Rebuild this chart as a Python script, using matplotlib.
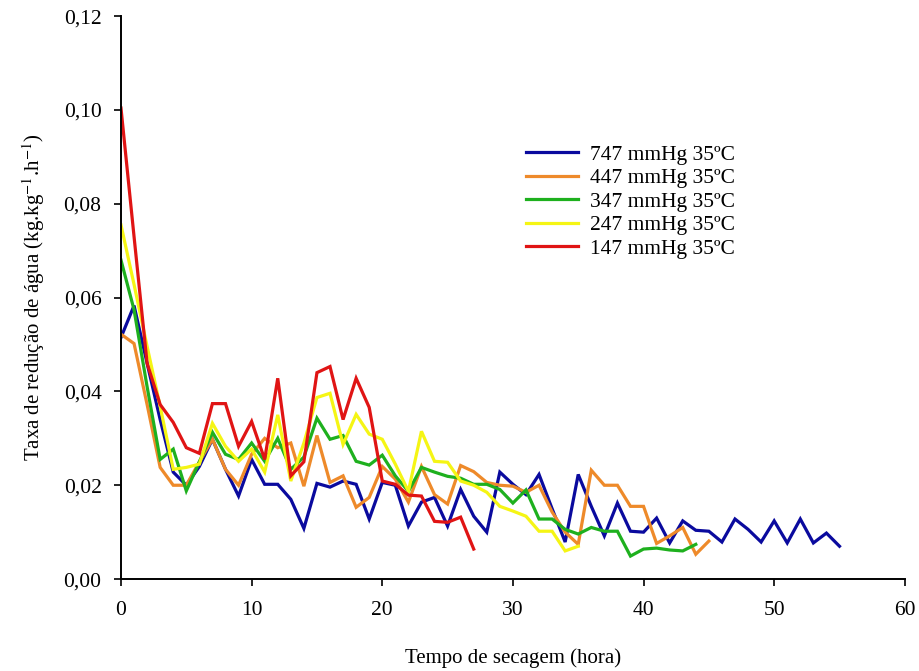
import numpy as np
import matplotlib
matplotlib.use("Agg")
import matplotlib.pyplot as plt

# Drying rate data, one value per hour
rate_747 = [0.0515, 0.0583, 0.046, 0.034, 0.0228, 0.020, 0.024, 0.0298, 0.0234, 0.0177,
            0.0255, 0.0202, 0.0202, 0.017, 0.0108, 0.0204, 0.0196, 0.0209, 0.0202, 0.0128,
            0.0206, 0.020, 0.0113, 0.0164, 0.0174, 0.0113, 0.0191, 0.0134, 0.010, 0.0228,
            0.0202, 0.018, 0.0223, 0.015, 0.0079, 0.0223, 0.0155, 0.0092, 0.0162, 0.0102,
            0.010, 0.013, 0.0077, 0.0124, 0.0104, 0.0102, 0.0079, 0.0128, 0.0106, 0.0079,
            0.0124, 0.0077, 0.0128, 0.0077, 0.0098, 0.007]
rate_447 = [0.0522, 0.0502, 0.0372, 0.0238, 0.020, 0.020, 0.025, 0.0298, 0.0234, 0.020,
            0.0266, 0.030, 0.028, 0.029, 0.0198, 0.0306, 0.0206, 0.022, 0.0153, 0.0174,
            0.024, 0.0213, 0.0164, 0.024, 0.018, 0.016, 0.0242, 0.0229, 0.0206, 0.020,
            0.0198, 0.0185, 0.020, 0.0143, 0.010, 0.0074, 0.0232, 0.020, 0.020, 0.0155,
            0.0155, 0.0076, 0.0092, 0.011, 0.0053, 0.0081]
rate_347 = [0.068, 0.0574, 0.041, 0.0255, 0.0277, 0.0188, 0.025, 0.0313, 0.0266, 0.0255,
            0.029, 0.0251, 0.030, 0.0234, 0.026, 0.0343, 0.0298, 0.0306, 0.0251, 0.0243,
            0.0264, 0.022, 0.0187, 0.0238, 0.0228, 0.0219, 0.0215, 0.0202, 0.0202, 0.0191,
            0.0162, 0.019, 0.0128, 0.0128, 0.0106, 0.0096, 0.011, 0.0102, 0.0102, 0.0049,
            0.0064, 0.0066, 0.0062, 0.006, 0.0074]
rate_247 = [0.0755, 0.0628, 0.0496, 0.0368, 0.0234, 0.0238, 0.0245, 0.0332, 0.0283, 0.0251,
            0.0277, 0.0228, 0.035, 0.0209, 0.029, 0.0387, 0.0396, 0.0287, 0.0351, 0.0309,
            0.0298, 0.0245, 0.0187, 0.0315, 0.0251, 0.0249, 0.0209, 0.0200, 0.0185, 0.0155,
            0.0145, 0.0134, 0.0102, 0.0102, 0.006, 0.007]
rate_147 = [0.1004, 0.073, 0.046, 0.0372, 0.0334, 0.028, 0.0268, 0.0374, 0.0374, 0.0283,
            0.0336, 0.0255, 0.0428, 0.022, 0.025, 0.044, 0.0453, 0.034, 0.0428, 0.0366,
            0.0209, 0.0202, 0.0179, 0.0177, 0.0123, 0.0121, 0.0132, 0.0064]

labels = ["747 mmHg 35ºC", "447 mmHg 35ºC", "347 mmHg 35ºC",
          "247 mmHg 35ºC", "147 mmHg 35ºC"]
colors = ["#0a0a9e", "#ee8a2a", "#1eb01e", "#f5f514", "#e01414"]

x_ticks = [0, 10, 20, 30, 40, 50, 60]
y_ticks = [0.00, 0.02, 0.04, 0.06, 0.08, 0.10, 0.12]

plt.rcParams["font.family"] = ["Liberation Serif", "DejaVu Serif"]
plt.rcParams["mathtext.fontset"] = "stix"

fig = plt.figure(figsize=(9.2, 6.71), dpi=100)
ax = fig.add_axes([0.1315, 0.137, 0.852, 0.839])

series = [rate_747, rate_447, rate_347, rate_247, rate_147]
for values, label, color in zip(series, labels, colors):
    hours = np.arange(len(values))
    ax.plot(hours, values, color=color, lw=2.3, label=label, solid_joinstyle="miter")

ax.set_xlim(0, 60)
ax.set_ylim(0, 0.12)
ax.set_xticks(x_ticks)
ax.set_yticks(y_ticks)
ax.set_yticklabels([f"{v:.2f}".replace(".", ",") for v in y_ticks])
ax.tick_params(direction="out", length=5, width=1.2, labelsize=15.5, colors="black")
ax.tick_params(axis="x", pad=11)
ax.tick_params(axis="y", pad=9)

for side in ["top", "right"]:
    ax.spines[side].set_visible(False)
for side in ["left", "bottom"]:
    ax.spines[side].set_linewidth(1.4)

ax.set_xlabel("Tempo de secagem (hora)", fontsize=15, labelpad=20)
ax.set_ylabel(r"Taxa de redução de água (kg.kg$^{-1}$.h$^{-1}$)", fontsize=15, labelpad=12)

ax.legend(loc="center", bbox_to_anchor=(0.65, 0.67), frameon=False, fontsize=15.5,
          handlelength=2.45, handletextpad=0.55, labelspacing=0.16)

fig.savefig("out.png", dpi=100)
